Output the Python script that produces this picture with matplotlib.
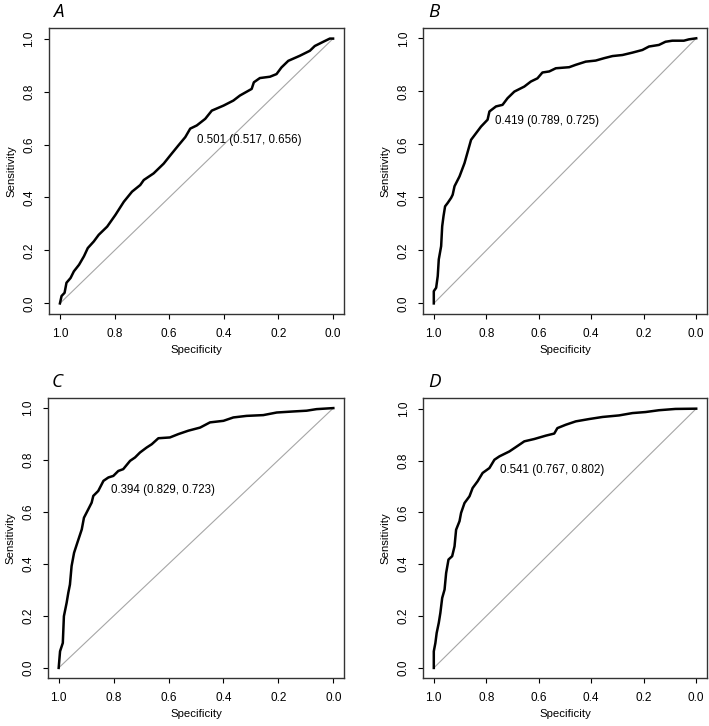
import numpy as np
import matplotlib
matplotlib.use("Agg")
import matplotlib.pyplot as plt

plt.rcParams['font.family'] = ['Liberation Sans', 'DejaVu Sans']

# ROC curves (specificity, sensitivity)
spec_a = [1.0, 0.994, 0.983, 0.976, 0.961, 0.949, 0.93, 0.912, 0.898, 0.876, 0.858, 0.827,
          0.797, 0.766, 0.736, 0.706, 0.693, 0.657, 0.62, 0.596, 0.566, 0.541, 0.523, 0.499,
          0.468, 0.444, 0.401, 0.365, 0.341, 0.298, 0.29, 0.268, 0.231, 0.207, 0.189, 0.164,
          0.122, 0.085, 0.067, 0.03, 0.012, 0.0]
sens_a = [0.0, 0.028, 0.04, 0.078, 0.096, 0.121, 0.146, 0.178, 0.209, 0.234, 0.259, 0.29,
          0.334, 0.384, 0.422, 0.447, 0.466, 0.491, 0.528, 0.559, 0.597, 0.628, 0.66, 0.672,
          0.697, 0.728, 0.747, 0.766, 0.785, 0.81, 0.835, 0.851, 0.856, 0.866, 0.891, 0.916,
          0.935, 0.954, 0.972, 0.991, 1.0, 1.0]

spec_b = [1.0, 1.0, 0.991, 0.985, 0.981, 0.972, 0.968, 0.963, 0.957, 0.947, 0.934, 0.928,
          0.921, 0.902, 0.883, 0.858, 0.839, 0.82, 0.795, 0.788, 0.763, 0.738, 0.719, 0.693,
          0.655, 0.63, 0.605, 0.586, 0.56, 0.535, 0.484, 0.459, 0.421, 0.383, 0.351, 0.319,
          0.281, 0.243, 0.205, 0.18, 0.142, 0.117, 0.091, 0.047, 0.028, 0.0]
sens_b = [0.0, 0.046, 0.059, 0.103, 0.166, 0.216, 0.291, 0.329, 0.366, 0.379, 0.398, 0.41,
          0.442, 0.479, 0.529, 0.617, 0.642, 0.667, 0.693, 0.724, 0.743, 0.749, 0.774, 0.799,
          0.818, 0.837, 0.849, 0.871, 0.875, 0.887, 0.891, 0.9, 0.912, 0.916, 0.925, 0.933,
          0.937, 0.946, 0.956, 0.969, 0.975, 0.987, 0.991, 0.991, 0.996, 1.0]

spec_c = [1.0, 0.998, 0.995, 0.985, 0.981, 0.971, 0.965, 0.959, 0.953, 0.944, 0.932, 0.916,
          0.908, 0.892, 0.88, 0.874, 0.856, 0.837, 0.819, 0.801, 0.783, 0.765, 0.74, 0.722,
          0.704, 0.68, 0.661, 0.637, 0.595, 0.564, 0.528, 0.485, 0.449, 0.4, 0.364, 0.316,
          0.255, 0.206, 0.146, 0.097, 0.061, 0.0]
sens_c = [0.0, 0.026, 0.064, 0.096, 0.199, 0.251, 0.289, 0.321, 0.392, 0.443, 0.482, 0.533,
          0.578, 0.611, 0.636, 0.662, 0.681, 0.72, 0.733, 0.739, 0.758, 0.765, 0.797, 0.81,
          0.829, 0.848, 0.861, 0.884, 0.887, 0.9, 0.913, 0.925, 0.945, 0.951, 0.964, 0.97,
          0.973, 0.983, 0.987, 0.99, 0.996, 1.0]

spec_d = [1.0, 1.0, 0.994, 0.989, 0.981, 0.975, 0.968, 0.959, 0.953, 0.944, 0.93, 0.921,
          0.915, 0.902, 0.896, 0.883, 0.864, 0.852, 0.833, 0.814, 0.788, 0.769, 0.75, 0.712,
          0.687, 0.655, 0.617, 0.573, 0.541, 0.529, 0.497, 0.459, 0.408, 0.357, 0.294, 0.243,
          0.193, 0.142, 0.079, 0.0]
sens_d = [0.0, 0.064, 0.096, 0.135, 0.174, 0.212, 0.27, 0.302, 0.366, 0.418, 0.431, 0.469,
          0.533, 0.566, 0.598, 0.636, 0.662, 0.694, 0.72, 0.752, 0.771, 0.803, 0.816, 0.835,
          0.852, 0.874, 0.883, 0.896, 0.904, 0.925, 0.938, 0.951, 0.96, 0.968, 0.974, 0.983,
          0.987, 0.994, 0.999, 1.0]

# best thresholds: (threshold, specificity, sensitivity)
thres = [(0.501, 0.517, 0.656), (0.419, 0.789, 0.725), (0.394, 0.829, 0.723), (0.541, 0.767, 0.802)]
panel_labels = ['A', 'B', 'C', 'D']
curves = [(spec_a, sens_a), (spec_b, sens_b), (spec_c, sens_c), (spec_d, sens_d)]
ticks = [1.0, 0.8, 0.6, 0.4, 0.2, 0.0]

W, H = 709, 726
fig = plt.figure(figsize=(W / 100, H / 100), dpi=100)

# axes boxes in pixels: left, top, right, bottom
boxes = [(49, 28, 344, 314), (423.3, 27.7, 706.7, 314),
         (47.7, 397.7, 344.3, 678.3), (423.3, 398.3, 706.7, 678.3)]
letter_pos = [(53, 17), (428, 17), (52, 387), (428, 387)]

for i, (l, t, r, b) in enumerate(boxes):
    ax = fig.add_axes([l / W, 1 - b / H, (r - l) / W, (b - t) / H])
    spec, sens = curves[i]
    ax.plot([1, 0], [0, 1], color='#a6a6a6', lw=0.8, zorder=1)
    ax.plot(spec, sens, color='black', lw=1.8, zorder=2)
    th, sp, se = thres[i]
    ax.annotate(f"{th:.3f} ({sp:.3f}, {se:.3f})", xy=(sp, se), xytext=(4, -3),
                textcoords='offset points', ha='left', va='top', fontsize=8.3)
    ax.set_xlim(1.04, -0.04)
    ax.set_ylim(-0.04, 1.04)
    ax.set_xticks(ticks)
    ax.set_xticklabels([f"{v:.1f}" for v in ticks])
    ax.set_yticks(ticks)
    ax.set_yticklabels([f"{v:.1f}" for v in ticks], rotation=90, va='center')
    ax.tick_params(direction='out', length=3.8, width=0.8, labelsize=8.5, pad=6, colors='black')
    for s in ax.spines.values():
        s.set_linewidth(1.0)
        s.set_color('#333333')
    ax.set_xlabel('Specificity', fontsize=8.2, labelpad=4)
    ax.set_ylabel('Sensitivity', fontsize=8.2, labelpad=5)
    fig.text(letter_pos[i][0] / W, 1 - letter_pos[i][1] / H, panel_labels[i],
             fontsize=13.5, style='italic', family='Open Sans', va='baseline', ha='left')

fig.savefig('out.png', dpi=100)
